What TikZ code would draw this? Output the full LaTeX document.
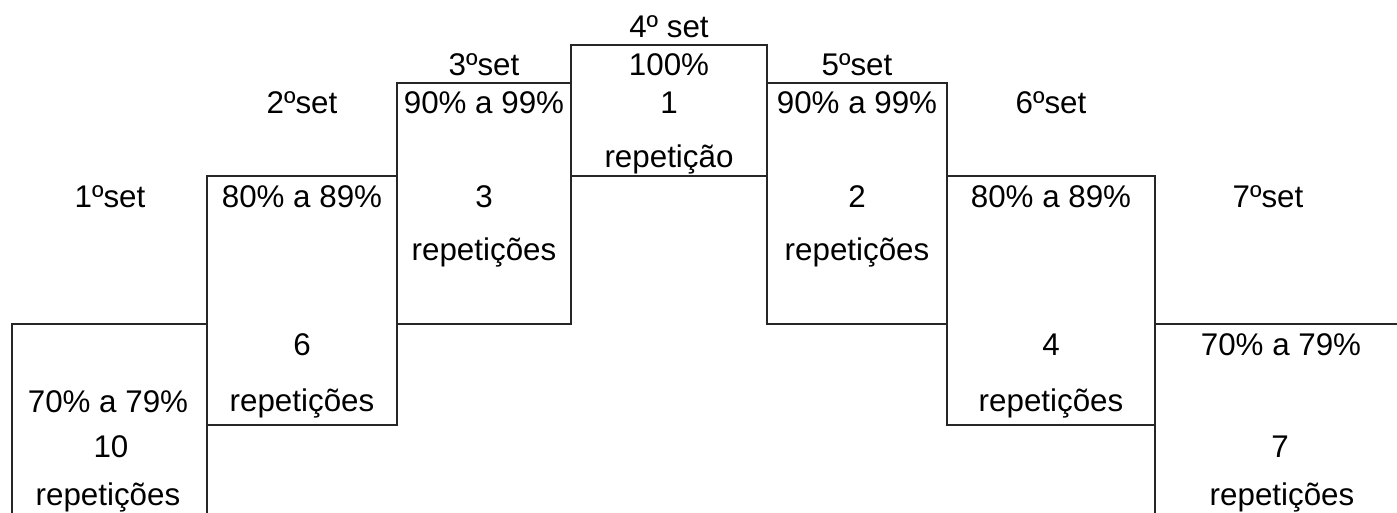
\documentclass[tikz,border=0pt]{standalone}
\usepackage{fontspec}
\setmainfont{Liberation Sans}
\begin{document}
\begin{tikzpicture}[x=0.75pt,y=-0.75pt,
  box/.style={draw=black!85,line width=1pt},
  lbl/.style={anchor=base,inner sep=0pt,font=\fontsize{23.5}{28}\selectfont}]
\useasboundingbox (0,0) rectangle (1397,512);
\clip (0,0) rectangle (1397,512);
% boxes
\draw[box] (12,560) |- (207,324) -- (207,560);
\draw[box] (207,176) rectangle (397,425);
\draw[box] (397,83) rectangle (571,324);
\draw[box] (571,45) rectangle (767,176);
\draw[box] (767,83) rectangle (947,324);
\draw[box] (947,176) rectangle (1155,425);
\draw[box] (1155,560) |- (1410,324);
% set labels
\node[lbl] (s1) at (110,207) {1ºset};
\node[lbl] (s2) at (302,113) {2ºset};
\node[lbl] (s3) at (484,75) {3ºset};
\node[lbl] (s4) at (669,37) {4º set};
\node[lbl] (s5) at (857,75) {5ºset};
\node[lbl] (s6) at (1051,113) {6ºset};
\node[lbl] (s7) at (1268,207) {7ºset};
% box 1
\node[lbl] (p1) at (108,412) {70\% a 79\%};
\node[lbl] (n1) at (111,457) {10};
\node[lbl] (r1) at (108,505) {repetições};
% box 2
\node[lbl] (p2) at (302,207) {80\% a 89\%};
\node[lbl] (n2) at (302,355) {6};
\node[lbl] (r2) at (302,411) {repetições};
% box 3
\node[lbl] (p3) at (484,113) {90\% a 99\%};
\node[lbl] (n3) at (484,207) {3};
\node[lbl] (r3) at (484,260) {repetições};
% box 4
\node[lbl] (p4) at (669,75) {100\%};
\node[lbl] (n4) at (669,113) {1};
\node[lbl] (r4) at (669,167) {repetição};
% box 5
\node[lbl] (p5) at (857,113) {90\% a 99\%};
\node[lbl] (n5) at (857,207) {2};
\node[lbl] (r5) at (857,260) {repetições};
% box 6
\node[lbl] (p6) at (1051,207) {80\% a 89\%};
\node[lbl] (n6) at (1051,355) {4};
\node[lbl] (r6) at (1051,411) {repetições};
% box 7
\node[lbl] (p7) at (1281,355) {70\% a 79\%};
\node[lbl] (n7) at (1280,457) {7};
\node[lbl] (r7) at (1282,505) {repetições};
\end{tikzpicture}
\end{document}
